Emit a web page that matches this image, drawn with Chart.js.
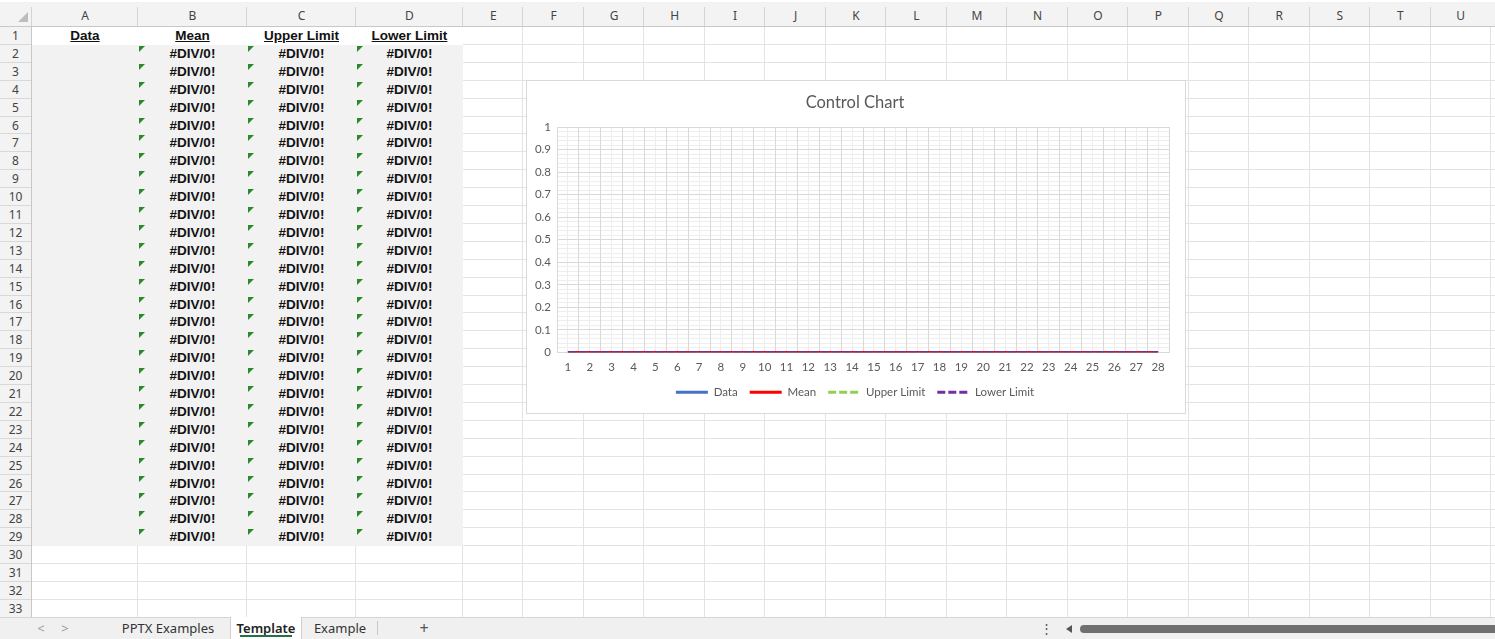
<!DOCTYPE html>
<html>
<head>
<meta charset="utf-8">
<title>Control Chart</title>
<script src="https://cdn.jsdelivr.net/npm/chart.js@4.4.1/dist/chart.umd.min.js"></script>
<style>
  html, body { margin: 0; padding: 0; }
  body { width: 1495px; height: 639px; position: relative; overflow: hidden; background: #fff; font-family: "Noto Sans", sans-serif; }
  .abs { position: absolute; box-sizing: border-box; white-space: nowrap; }
  #chartBox { position: absolute; left: 526px; top: 80px; width: 658px; height: 332px; border: 1px solid #d9d9d9; background: #fff; }
  #chartBox canvas { position: absolute; left: 0; top: 0; }
</style>
</head>
<body>
<div id="sheet"></div>
<div id="chartBox"><canvas id="controlChart" width="656" height="330"></canvas></div>
<script>
// Control chart data (all series evaluate to 0 in the template)
const categories = ['1', '2', '3', '4', '5', '6', '7', '8', '9', '10', '11', '12', '13', '14',
  '15', '16', '17', '18', '19', '20', '21', '22', '23', '24', '25', '26', '27', '28'];
const dataValues = [0, 0, 0, 0, 0, 0, 0, 0, 0, 0, 0, 0, 0, 0, 0, 0, 0, 0, 0, 0, 0, 0, 0, 0, 0, 0, 0, 0];
const meanValues = [0, 0, 0, 0, 0, 0, 0, 0, 0, 0, 0, 0, 0, 0, 0, 0, 0, 0, 0, 0, 0, 0, 0, 0, 0, 0, 0, 0];
const upperLimitValues = [0, 0, 0, 0, 0, 0, 0, 0, 0, 0, 0, 0, 0, 0, 0, 0, 0, 0, 0, 0, 0, 0, 0, 0, 0, 0, 0, 0];
const lowerLimitValues = [0, 0, 0, 0, 0, 0, 0, 0, 0, 0, 0, 0, 0, 0, 0, 0, 0, 0, 0, 0, 0, 0, 0, 0, 0, 0, 0, 0];
const seriesNames = ['Data', 'Mean', 'Upper Limit', 'Lower Limit'];

// Spreadsheet content around the chart
const columnLetters = ['A', 'B', 'C', 'D', 'E', 'F', 'G', 'H', 'I', 'J', 'K', 'L', 'M', 'N', 'O', 'P', 'Q', 'R', 'S', 'T', 'U'];
const headerCells = ['Data', 'Mean', 'Upper Limit', 'Lower Limit'];
const errorText = '#DIV/0!';
const sheetTabs = ['PPTX Examples', 'Template', 'Example'];

// --- sheet layout ---
const sheet = document.getElementById('sheet');
const headerH = 27;
const rowH = 17.9;
const rowCount = 33;
const tabTop = 617;
const colEdges = [32, 138, 247, 356, 463];
for (let i = 1; i <= 17; i++) colEdges.push(463 + i * 60.47);
const rowTop = (r) => headerH + (r - 1) * rowH;

function box(x, y, w, h, css, text) {
  const d = document.createElement('div');
  d.className = 'abs';
  d.style.cssText = `left:${x}px;top:${y}px;width:${w}px;height:${h}px;` + (css || '');
  if (text != null) d.textContent = text;
  sheet.appendChild(d);
  return d;
}

// grid lines
for (let r = 1; r <= rowCount; r++) {
  box(32, rowTop(r) + rowH - 1, 1495 - 32, 1, 'background:#e3e3e3');
}
colEdges.forEach((x) => box(x - 1, headerH, 1, tabTop - headerH, 'background:#e3e3e3'));

// filled block A1:D29
box(32, rowTop(1), colEdges[4] - 32, rowH, 'background:#fff');
box(32, rowTop(2), colEdges[4] - 32, rowH * 28, 'background:#f2f2f2');

// column header
box(0, 0, 1495, headerH, 'background:#f3f3f3;border-top:2px solid #fff;border-bottom:1px solid #c8c8c8');
box(18, 12, 0, 0, 'border-left:10px solid transparent;border-bottom:10px solid #bdbdbd');
columnLetters.forEach((c, i) => {
  const x0 = colEdges[i], x1 = colEdges[i + 1];
  box(x0 - 1, 7, 1, headerH - 8, 'background:#d4d4d4');
  box(x0, 4, x1 - x0, headerH - 5, 'font-size:12px;color:#444;text-align:center;line-height:24px', c);
});

// row header
box(0, headerH, 32, tabTop - headerH, 'background:#f3f3f3;border-right:1px solid #c8c8c8');
for (let r = 1; r <= rowCount; r++) {
  box(0, rowTop(r) + rowH - 1, 31, 1, 'background:#d8d8d8');
  box(0, rowTop(r), 31, rowH, `font-size:12px;color:#444;text-align:center;line-height:${rowH}px`, String(r));
}

// row 1 headings
headerCells.forEach((t, i) => {
  box(colEdges[i], rowTop(1), colEdges[i + 1] - colEdges[i], rowH,
    `font-family:"Liberation Sans",Arial,sans-serif;font-weight:bold;font-size:13.5px;text-decoration:underline;color:#111;text-align:center;line-height:${rowH + 1}px`, t);
});

// error cells B2:D29
for (let r = 2; r <= 29; r++) {
  for (let c = 1; c <= 3; c++) {
    const x0 = colEdges[c], x1 = colEdges[c + 1];
    box(x0, rowTop(r), x1 - x0, rowH,
      `font-family:"Liberation Sans",Arial,sans-serif;font-weight:bold;font-size:13.5px;color:#111;text-align:center;line-height:${rowH + 1}px`, errorText);
    box(x0 + 1, rowTop(r) + 1, 0, 0, 'border-top:6px solid #2a8a2a;border-right:6px solid transparent');
  }
}

// sheet tabs bar
box(0, tabTop, 1495, 639 - tabTop, 'background:#f0f0f0;border-top:1px solid #d6d6d6');
box(34, tabTop + 2, 14, 18, 'font-size:13px;color:#9a9a9a;text-align:center', '<');
box(58, tabTop + 2, 14, 18, 'font-size:13px;color:#9a9a9a;text-align:center', '>');
box(230, tabTop, 72, 22, 'background:#fff;border-left:1px solid #cfcfcf;border-right:1px solid #cfcfcf');
const tabCenters = [168, 266, 340];
sheetTabs.forEach((t, i) => {
  const active = t === 'Template';
  box(tabCenters[i] - 60, tabTop + 2, 120, 18,
    `font-size:13px;color:${active ? '#222' : '#333'};text-align:center;line-height:18px;font-weight:${active ? '600' : '400'}`, t);
});
box(240, tabTop + 18, 52, 2, 'background:#217346');
box(377, tabTop + 4, 1, 14, 'background:#c8c8c8');
box(416, tabTop + 1, 16, 20, 'font-size:16px;color:#555;text-align:center;line-height:20px', '+');
box(1040, tabTop + 2, 12, 18, 'font-size:13px;color:#555;text-align:center;line-height:18px', '\u22EE');
box(1066, tabTop + 8, 0, 0, 'border-top:4px solid transparent;border-bottom:4px solid transparent;border-right:6px solid #555');
box(1080, tabTop + 8, 430, 8, 'background:#707070;border-radius:4px');

// --- chart ---
Chart.defaults.font.family = 'Lato, "Open Sans", sans-serif';
Chart.defaults.color = '#595959';

const ctx = document.getElementById('controlChart').getContext('2d');

new Chart(ctx, {
  type: 'line',
  data: {
    labels: categories,
    datasets: [
      { label: seriesNames[0], data: dataValues, borderColor: '#4472C4', backgroundColor: '#4472C4', borderWidth: 3, order: 4 },
      { label: seriesNames[1], data: meanValues, borderColor: '#FF0000', backgroundColor: '#FF0000', borderWidth: 3, order: 3 },
      { label: seriesNames[2], data: upperLimitValues, borderColor: '#92D050', backgroundColor: '#92D050', borderWidth: 3, borderDash: [8, 3], order: 2 },
      { label: seriesNames[3], data: lowerLimitValues, borderColor: '#7030A0', backgroundColor: '#7030A0', borderWidth: 3, borderDash: [8, 3], order: 1 }
    ]
  },
  options: {
    responsive: false,
    animation: false,
    events: [],
    elements: {
      point: { radius: 0 },
      line: { tension: 0, fill: false }
    },
    layout: { padding: { left: 0, right: 0, top: 0, bottom: 3 } },
    plugins: {
      title: {
        display: true,
        text: 'Control Chart',
        color: '#595959',
        font: { size: 16.5, weight: 'normal' },
        padding: { top: 12, bottom: 14.2 }
      },
      legend: {
        position: 'bottom',
        labels: {
          usePointStyle: true,
          pointStyle: 'line',
          pointStyleWidth: 32,
          boxHeight: 11,
          padding: 12,
          color: '#595959',
          font: { size: 11.5 },
          // keep dashes and widths of the series in the legend samples
          generateLabels: (chart) =>
            Chart.defaults.plugins.legend.labels.generateLabels(chart).map((item) => {
              const ds = chart.data.datasets[item.datasetIndex];
              item.lineDash = ds.borderDash || [];
              item.lineWidth = ds.borderWidth;
              item.strokeStyle = ds.borderColor;
              return item;
            }),
          sort: (a, b) => a.datasetIndex - b.datasetIndex
        }
      },
      tooltip: { enabled: false }
    },
    scales: {
      x: {
        type: 'category',
        offset: true,
        grid: { offset: true, color: '#d9d9d9', drawTicks: false, z: -1 },
        border: { display: false },
        ticks: { padding: 8, maxRotation: 0, autoSkip: false, font: { size: 11.5 } },
        afterFit: (scale) => { scale.height = 22; }
      },
      y: {
        min: 0,
        max: 1,
        ticks: {
          stepSize: 0.1,
          padding: 6,
          font: { size: 11.5 },
          callback: (value) => String(Number(value.toFixed(1)))
        },
        grid: { color: '#d9d9d9', drawTicks: false, z: -1 },
        border: { display: false },
        afterFit: (scale) => { scale.width = 30; }
      },
      // empty strip on the right so the plot ends where the reference does
      yRight: {
        position: 'right',
        min: 0,
        max: 1,
        ticks: { display: false },
        grid: { display: false, drawTicks: false },
        border: { display: false },
        afterFit: (scale) => { scale.width = 14; }
      },
      xMinor: {
        type: 'linear',
        position: 'bottom',
        min: 0,
        max: 28,
        ticks: { stepSize: 0.5, display: false },
        grid: { color: '#eeeeee', drawTicks: false, z: -2 },
        border: { display: false },
        afterFit: (scale) => { scale.height = 0; }
      },
      yMinor: {
        type: 'linear',
        position: 'left',
        min: 0,
        max: 1,
        ticks: { stepSize: 0.02, display: false },
        grid: { color: '#eeeeee', drawTicks: false, z: -2 },
        border: { display: false },
        afterFit: (scale) => { scale.width = 0; }
      }
    }
  }
});
</script>
</body>
</html>
